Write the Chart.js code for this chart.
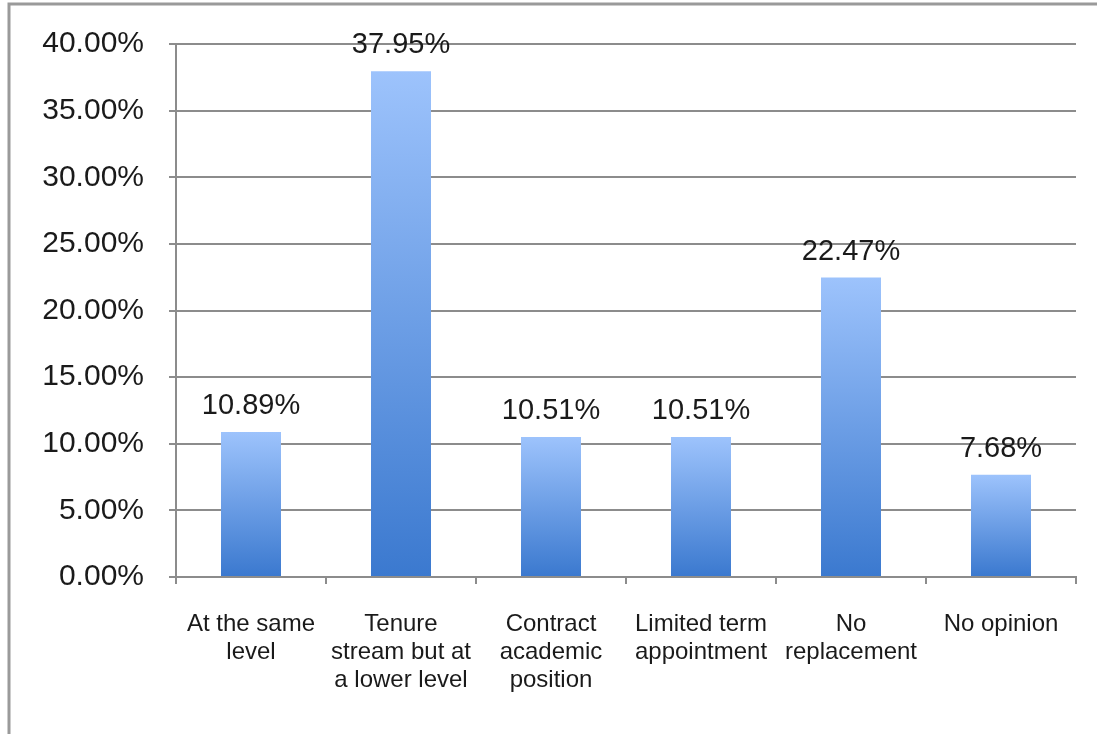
<!DOCTYPE html>
<html>
<head>
<meta charset="utf-8">
<script src="https://cdn.jsdelivr.net/npm/chart.js@4"></script>
<style>
  html, body { margin: 0; padding: 0; background: #fff; overflow: hidden; }
  canvas { display: block; }
</style>
</head>
<body>
<canvas id="myChart" width="1097" height="734"></canvas>
<script>
var categories = [
    ['At the same', 'level'],
    ['Tenure', 'stream but at', 'a lower level'],
    ['Contract', 'academic', 'position'],
    ['Limited term', 'appointment'],
    ['No', 'replacement'],
    ['No opinion']
];
var shares = [10.89, 37.95, 10.51, 10.51, 22.47, 7.68];
var yTicks = [0, 5, 10, 15, 20, 25, 30, 35, 40];

var FONT = "'Liberation Sans', Arial, Helvetica, sans-serif";

// vertical gradient on every bar, light at the top, darker at the base
// (each bar gets its own options copy, the resolved ones are shared)
const barGradient = {
    id: 'barGradient',
    beforeDatasetsDraw(chart) {
        const ctx = chart.ctx;
        chart.getDatasetMeta(0).data.forEach(function (bar) {
            const g = ctx.createLinearGradient(0, bar.y, 0, bar.base);
            g.addColorStop(0, '#9dc3fc');
            g.addColorStop(1, '#3b79cf');
            bar.options = Object.assign({}, bar.options, { backgroundColor: g });
        });
    }
};

// percent values written above the bars
const valueLabels = {
    id: 'valueLabels',
    afterDatasetsDraw(chart) {
        const ctx = chart.ctx;
        ctx.save();
        ctx.font = '29px ' + FONT;
        ctx.fillStyle = '#1a1a1a';
        ctx.textAlign = 'center';
        ctx.textBaseline = 'alphabetic';
        chart.getDatasetMeta(0).data.forEach(function (bar, i) {
            ctx.fillText(shares[i].toFixed(2) + '%', bar.x, bar.y - 18);
        });
        ctx.restore();
    }
};

// grey frame along the top and left edge
const frame = {
    id: 'frame',
    afterDraw(chart) {
        const ctx = chart.ctx;
        ctx.save();
        ctx.strokeStyle = '#9a9a9a';
        ctx.lineWidth = 3;
        ctx.beginPath();
        ctx.moveTo(1097, 4);
        ctx.lineTo(9, 4);
        ctx.lineTo(9, 734);
        ctx.stroke();
        ctx.restore();
    }
};

const ctx = document.getElementById('myChart').getContext('2d');
const myChart = new Chart(ctx, {
    type: 'bar',
    data: {
        labels: categories,
        datasets: [{
            data: shares,
            backgroundColor: '#6a9fe6',
            borderWidth: 0,
            barPercentage: 0.4,
            categoryPercentage: 1
        }]
    },
    options: {
        responsive: false,
        animation: false,
        devicePixelRatio: 1,
        layout: { padding: { top: 44, right: 21, left: 0, bottom: 0 } },
        plugins: {
            legend: { display: false },
            tooltip: { enabled: false }
        },
        scales: {
            x: {
                offset: true,
                grid: {
                    offset: true,
                    drawOnChartArea: false,
                    drawTicks: true,
                    tickLength: 7,
                    color: '#8c8c8c',
                    lineWidth: 2
                },
                border: { color: '#8c8c8c', width: 2 },
                ticks: {
                    color: '#1a1a1a',
                    font: { family: FONT, size: 24, lineHeight: 1.18 },
                    padding: 26,
                    maxRotation: 0,
                    autoSkip: false
                },
                afterFit: function (scale) { scale.height = 157; }
            },
            y: {
                min: 0,
                max: 40,
                afterBuildTicks: function (scale) {
                    scale.ticks = yTicks.map(function (v) { return { value: v }; });
                },
                grid: {
                    color: '#8c8c8c',
                    lineWidth: 2,
                    tickLength: 7
                },
                border: { color: '#8c8c8c', width: 2 },
                ticks: {
                    color: '#1a1a1a',
                    font: { family: FONT, size: 30 },
                    padding: 25,
                    callback: function (v) { return v.toFixed(2) + '%'; }
                },
                afterFit: function (scale) { scale.width = 176; }
            }
        }
    },
    plugins: [barGradient, valueLabels, frame]
});
</script>
</body>
</html>
